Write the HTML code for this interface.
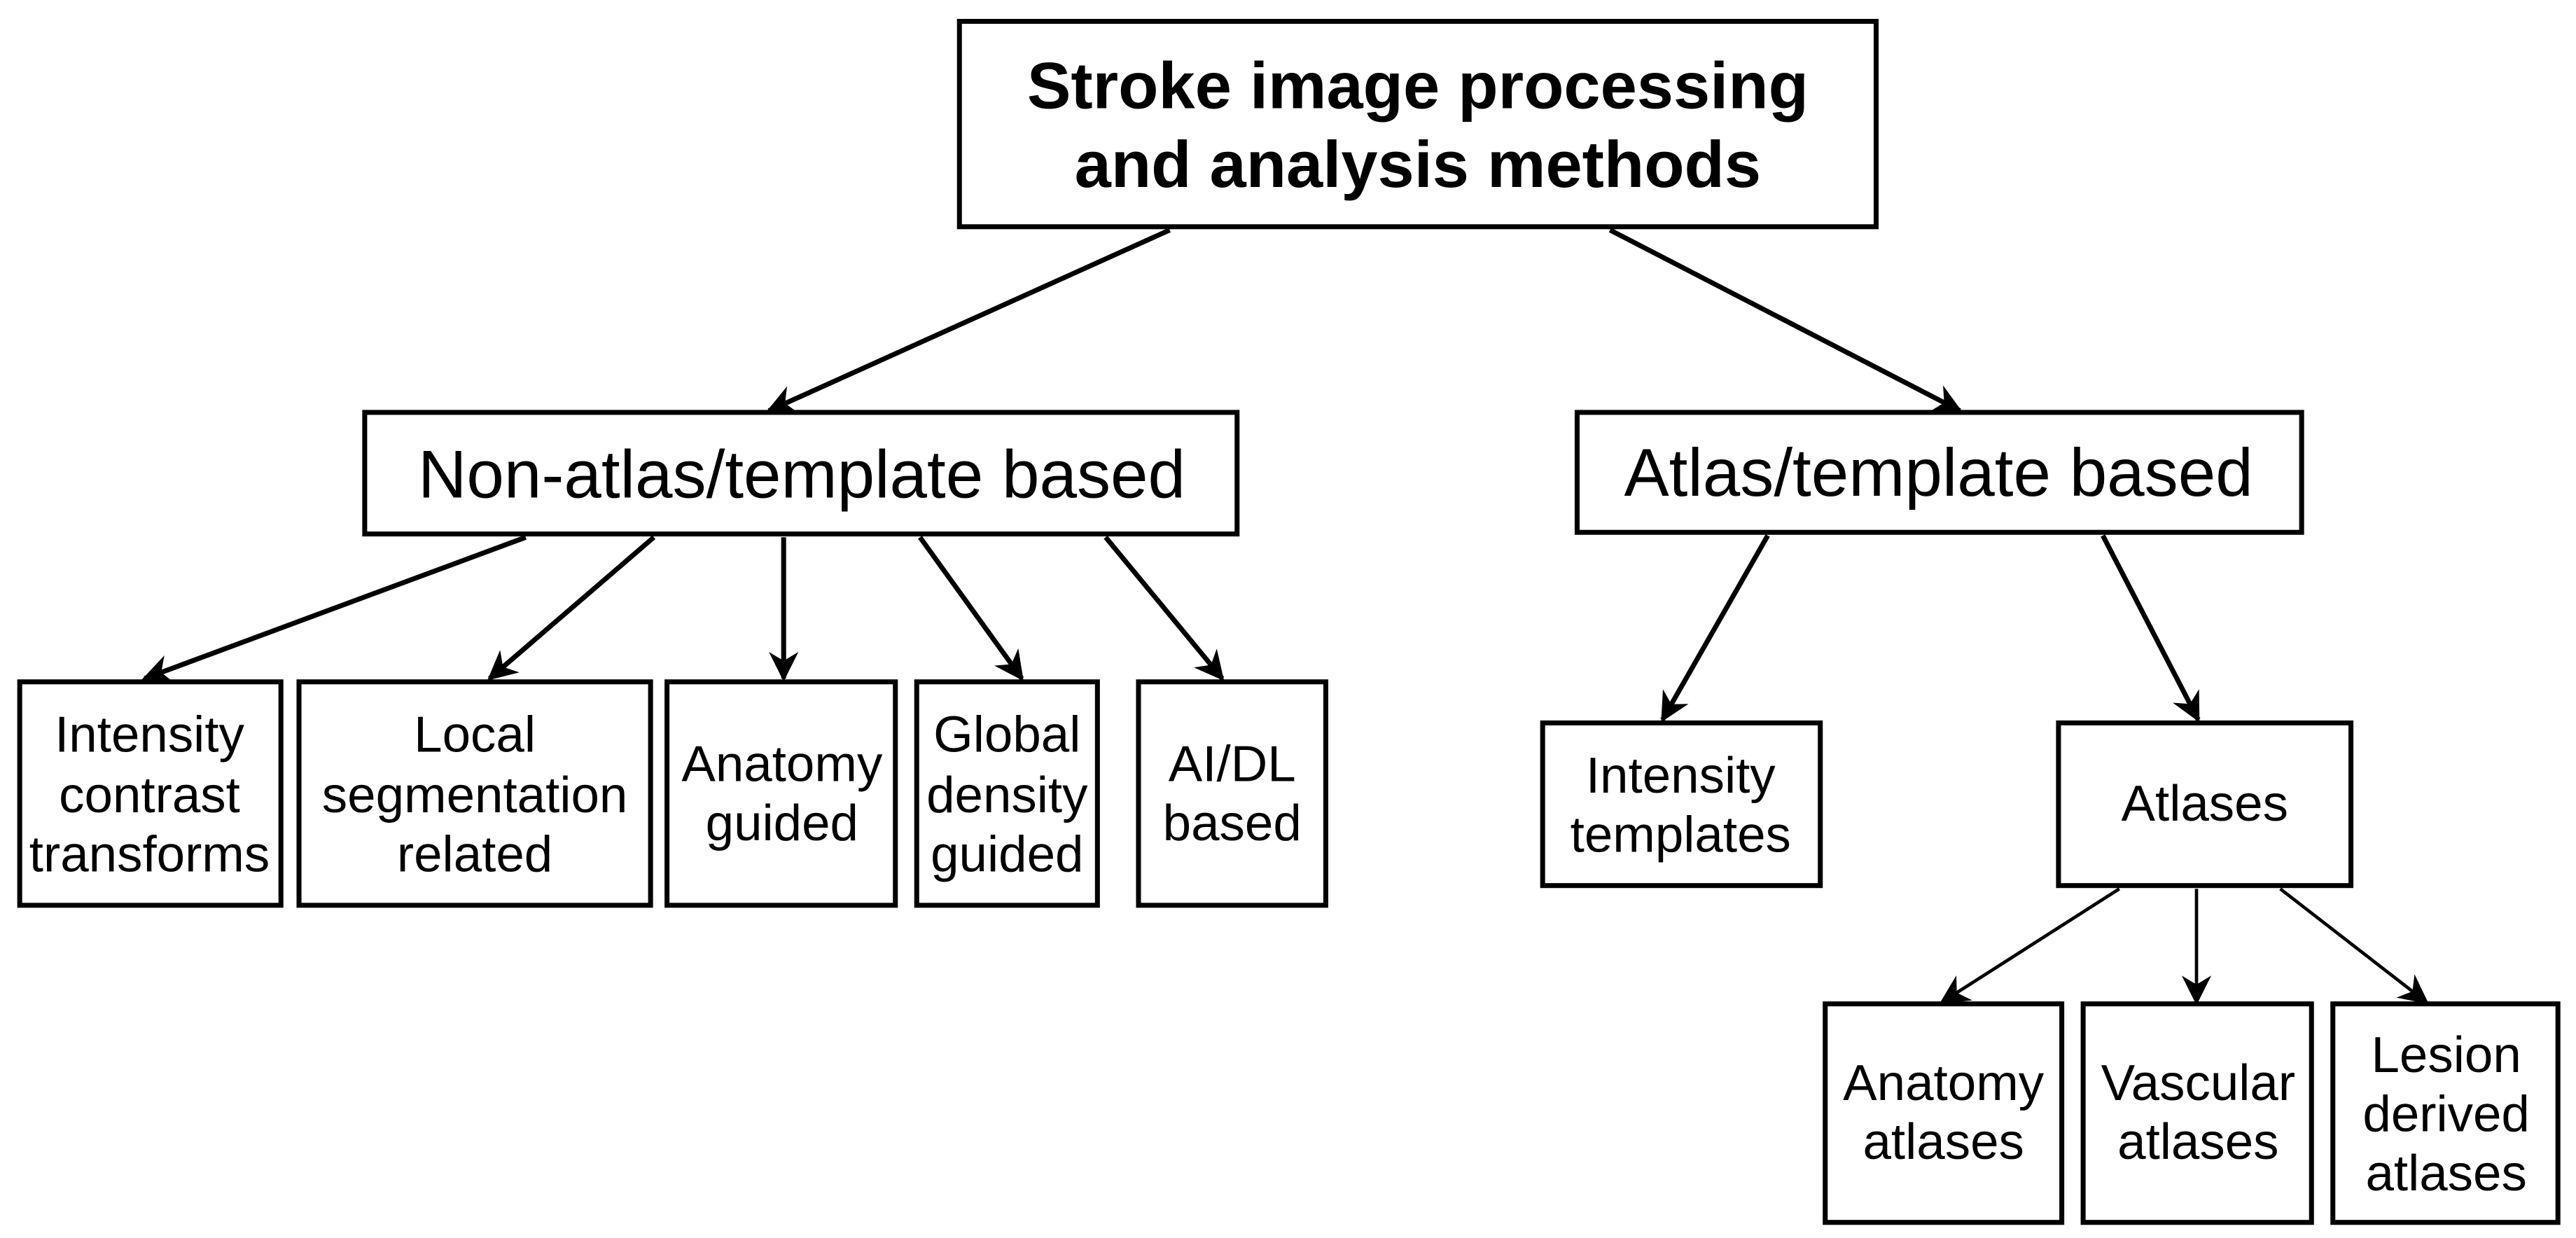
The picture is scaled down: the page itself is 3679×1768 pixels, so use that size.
<!DOCTYPE html>
<html><head><meta charset="utf-8"><style>
html,body{margin:0;padding:0;background:#fff;}
svg{display:block;}
text{font-family:"Liberation Sans",Arial,sans-serif;fill:#000;text-anchor:middle;dominant-baseline:central;}
</style></head><body>
<svg width="3679" height="1768" viewBox="0 0 1568 753.5" preserveAspectRatio="none" xmlns="http://www.w3.org/2000/svg">
<defs>
<marker id="ah" viewBox="0 0 10 10" refX="9" refY="5" markerWidth="18" markerHeight="18" markerUnits="userSpaceOnUse" orient="auto">
<path d="M0,0 L10,5 L0,10 L3,5 z" fill="#000"/>
</marker>
</defs>
<g fill="none" stroke="#000" stroke-width="3">
<rect x="584" y="13" width="558" height="125"/>
<rect x="222" y="251" width="531" height="74"/>
<rect x="960" y="251" width="441" height="73"/>
<rect x="12" y="415" width="159" height="136"/>
<rect x="182" y="415" width="214" height="136"/>
<rect x="406" y="415" width="139" height="136"/>
<rect x="558" y="415" width="110" height="136"/>
<rect x="693" y="415" width="114" height="136"/>
<rect x="939" y="440" width="169" height="99"/>
<rect x="1253" y="440" width="178" height="99"/>
<rect x="1111" y="611" width="144" height="133"/>
<rect x="1268" y="611" width="139" height="133"/>
<rect x="1420" y="611" width="137" height="133"/>
</g>
<g stroke="#000" stroke-width="3" marker-end="url(#ah)">
<line x1="712" y1="140" x2="468" y2="250"/>
<line x1="980" y1="140" x2="1193" y2="250"/>
<line x1="320" y1="327" x2="88" y2="413"/>
<line x1="398" y1="327" x2="298" y2="413"/>
<line x1="477" y1="327" x2="477" y2="413"/>
<line x1="560" y1="327" x2="622" y2="413"/>
<line x1="673" y1="327" x2="744" y2="413"/>
<line x1="1076" y1="326" x2="1012" y2="438"/>
<line x1="1280" y1="326" x2="1338" y2="438"/>
</g>
<g stroke="#000" stroke-width="2" marker-end="url(#ah)">
<line x1="1290" y1="541" x2="1182" y2="610"/>
<line x1="1337" y1="541" x2="1337" y2="610"/>
<line x1="1388" y1="541" x2="1477" y2="610"/>
</g>
<g font-weight="bold" font-size="40">
<text x="863" y="52">Stroke image processing</text>
<text x="863" y="100">and analysis methods</text>
</g>
<g font-size="41">
<text x="488" y="289">Non-atlas/template based</text>
<text x="1180" y="288">Atlas/template based</text>
</g>
<g font-size="31">
<text x="91" y="447">Intensity</text><text x="91" y="484">contrast</text><text x="91" y="520">transforms</text>
<text x="289" y="447">Local</text><text x="289" y="484">segmentation</text><text x="289" y="520">related</text>
<text x="476" y="465">Anatomy</text><text x="476" y="501">guided</text>
<text x="613" y="447">Global</text><text x="613" y="484">density</text><text x="613" y="520">guided</text>
<text x="750" y="465">AI/DL</text><text x="750" y="501">based</text>
<text x="1023" y="472">Intensity</text><text x="1023" y="508">templates</text>
<text x="1342" y="489">Atlases</text>
<text x="1183" y="659">Anatomy</text><text x="1183" y="695">atlases</text>
<text x="1338" y="659">Vascular</text><text x="1338" y="695">atlases</text>
<text x="1489" y="642">Lesion</text><text x="1489" y="678">derived</text><text x="1489" y="714">atlases</text>
</g>
</svg>
</body></html>
